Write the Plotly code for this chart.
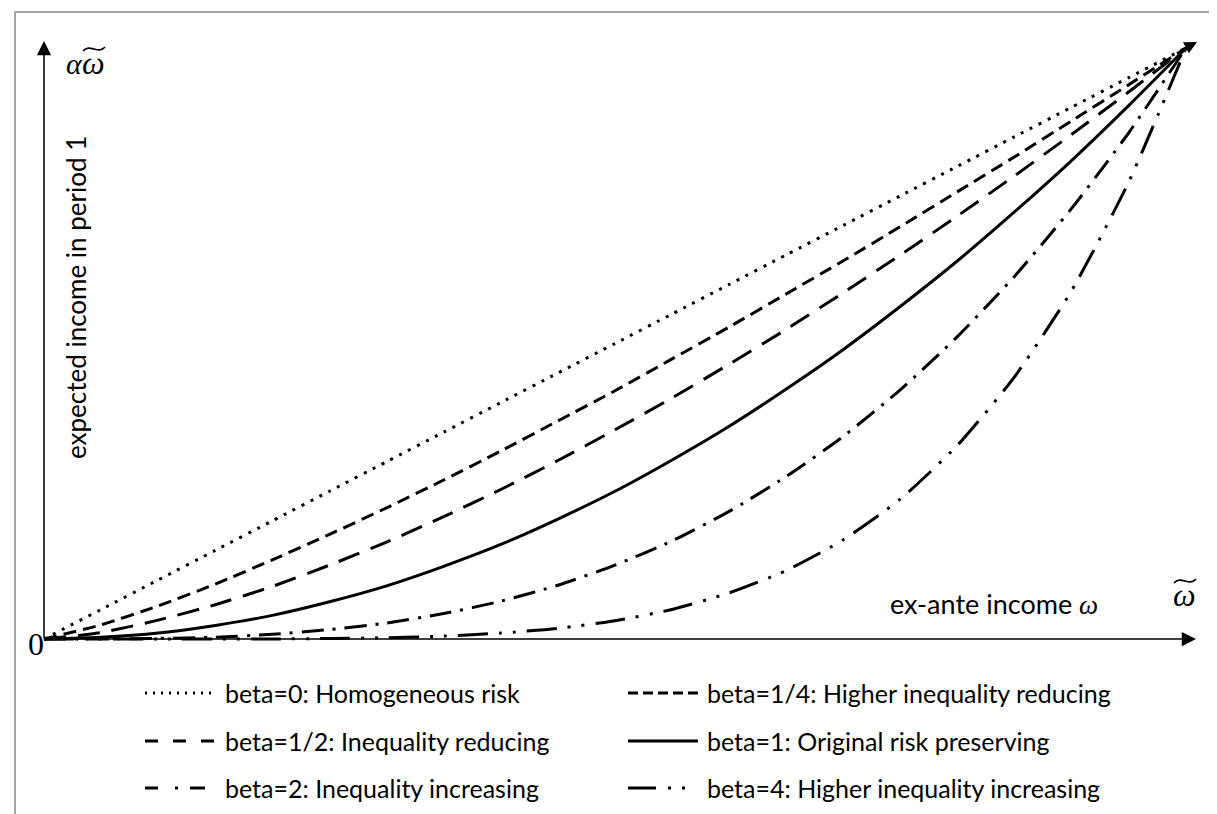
import plotly.graph_objects as go

# ---------------- data ----------------
x_vals = [0.00, 0.05, 0.10, 0.15, 0.20, 0.25, 0.30, 0.35, 0.40, 0.45, 0.50,
          0.55, 0.60, 0.65, 0.70, 0.75, 0.80, 0.85, 0.90, 0.95, 1.00]

y_beta0 = [0.000, 0.050, 0.100, 0.150, 0.200, 0.250, 0.300, 0.350, 0.400, 0.450, 0.500,
           0.550, 0.600, 0.650, 0.700, 0.750, 0.800, 0.850, 0.900, 0.950, 1.000]
y_beta14 = [0.000, 0.024, 0.056, 0.093, 0.134, 0.177, 0.222, 0.269, 0.318, 0.369, 0.420,
            0.474, 0.528, 0.584, 0.640, 0.698, 0.757, 0.816, 0.877, 0.938, 1.000]
y_beta12 = [0.000, 0.011, 0.032, 0.058, 0.089, 0.125, 0.164, 0.207, 0.253, 0.302, 0.354,
            0.408, 0.465, 0.524, 0.586, 0.650, 0.716, 0.784, 0.854, 0.926, 1.000]
y_beta1 = [0.000, 0.003, 0.010, 0.023, 0.040, 0.063, 0.090, 0.123, 0.160, 0.203, 0.250,
           0.303, 0.360, 0.423, 0.490, 0.563, 0.640, 0.723, 0.810, 0.903, 1.000]
y_beta2 = [0.000, 0.000, 0.001, 0.003, 0.008, 0.016, 0.027, 0.043, 0.064, 0.091, 0.125,
           0.166, 0.216, 0.275, 0.343, 0.422, 0.512, 0.614, 0.729, 0.857, 1.000]
y_beta4 = [0.000, 0.000, 0.000, 0.000, 0.000, 0.001, 0.002, 0.005, 0.010, 0.018, 0.031,
           0.050, 0.078, 0.116, 0.168, 0.237, 0.328, 0.444, 0.590, 0.774, 1.000]

series_names = ["beta=0: Homogeneous risk",
                "beta=1/4: Higher inequality reducing",
                "beta=1/2: Inequality reducing",
                "beta=1: Original risk preserving",
                "beta=2: Inequality increasing",
                "beta=4: Higher inequality increasing"]
series_values = [y_beta0, y_beta14, y_beta12, y_beta1, y_beta2, y_beta4]
series_dash = ["3px,7px", "13px,7px", "22px,12px", "solid",
               "22px,9px,3px,9px", "30px,11px,3px,11px,3px,11px"]
legend_dash = ["2px,6px", "10px,5px", "13px,15px", "solid",
               "13px,17px,3px,12px,15px", "28px,12px,3px,11px,3px"]

# ---------------- layout geometry (pixels) ----------------
W, H = 1217, 814
ML, MR, MT, MB = 13, 16, 28, 171
X0PX, X1PX = 36, 1178     # pixel of x=0 and x=1
Y0PX, Y1PX = 631, 40      # pixel of y=0 and y=1
xs = X1PX - X0PX
ys = Y0PX - Y1PX
PW, PH = W - ML - MR, H - MT - MB


def dx(px):
    return (px - X0PX) / xs


def dy(py):
    return (Y0PX - py) / ys


def paper_x(px):
    return (px - ML) / PW


def paper_y(py):
    return (H - MB - py) / PH


xrange_ = [dx(ML), dx(W - MR)]
yrange_ = [dy(H - MB), dy(MT)]

FONT = "Lato"
MATH = "Liberation Serif"

fig = go.Figure()
for name, vals, dash in zip(series_names, series_values, series_dash):
    fig.add_trace(go.Scatter(
        x=x_vals, y=vals, mode="lines", name=name,
        line=dict(color="black", width=3, dash=dash, shape="spline", smoothing=0.6),
        showlegend=False, hoverinfo="skip"))

annotations = []
shapes = []

# axes with arrow heads
annotations.append(dict(x=dx(1188), y=0, ax=0, ay=0, xref="x", yref="y", axref="x", ayref="y",
                        text="", showarrow=True, arrowhead=2, arrowsize=1.9, arrowwidth=1.5,
                        arrowcolor="black"))
annotations.append(dict(x=0, y=dy(33), ax=0, ay=0, xref="x", yref="y", axref="x", ayref="y",
                        text="", showarrow=True, arrowhead=2, arrowsize=1.9, arrowwidth=1.5,
                        arrowcolor="black"))
# diagonal arrow head at the end of the curves
annotations.append(dict(x=dx(1189), y=dy(34), ax=dx(1172), ay=dy(43), xref="x", yref="y",
                        axref="x", ayref="y", text="", showarrow=True, arrowhead=2,
                        arrowsize=1.0, arrowwidth=2.5, arrowcolor="black"))


def math_text(txt, cx, cy, size=30):
    annotations.append(dict(x=paper_x(cx), y=paper_y(cy), xref="paper", yref="paper",
                            text="<i>%s</i>" % txt, showarrow=False,
                            xanchor="center", yanchor="middle",
                            font=dict(family=MATH, size=size, color="black")))


def tilde(cx, cy, half=11, amp=6):
    pts = [(cx - half, cy + 2), (cx - half / 2.5, cy - amp), (cx + half / 2.5, cy + amp),
           (cx + half, cy - 2)]
    p = [(paper_x(a), paper_y(b)) for a, b in pts]
    path = "M %f,%f C %f,%f %f,%f %f,%f" % (p[0][0], p[0][1], p[1][0], p[1][1],
                                            p[2][0], p[2][1], p[3][0], p[3][1])
    shapes.append(dict(type="path", xref="paper", yref="paper", path=path,
                       line=dict(color="black", width=1.6)))


# math labels: alpha omega-tilde at the y axis top, omega-tilde at the x axis end
math_text("α", 66, 55)
math_text("ω", 85, 55, size=32)
tilde(86, 41)
math_text("ω", 1176, 587, size=32)
tilde(1177, 573)
annotations.append(dict(x=paper_x(28), y=paper_y(636), xref="paper", yref="paper", text="0",
                        showarrow=False, xanchor="center", yanchor="middle",
                        font=dict(family=MATH, size=32, color="black")))
annotations.append(dict(x=paper_x(1092), y=paper_y(595), xref="paper", yref="paper",
                        text="ex-ante income <span style='font-family:Liberation Serif'><i>ω</i></span>",
                        showarrow=False, xanchor="right", yanchor="middle",
                        font=dict(family=FONT, size=27, color="black")))
annotations.append(dict(x=paper_x(68), y=paper_y(290), xref="paper", yref="paper",
                        text="expected income in period 1", textangle=-90,
                        showarrow=False, xanchor="center", yanchor="middle",
                        font=dict(family=FONT, size=26, color="black")))

# manual legend
col_x = [(137, 207, 215), (620, 690, 697)]
row_y = [685, 733, 780]
for i, (name, ldash) in enumerate(zip(series_names, legend_dash)):
    row, col = divmod(i, 2)
    x_a, x_b, x_t = col_x[col]
    yy = row_y[row]
    sx_b = x_b - (10 if i == 4 else 0)
    shapes.append(dict(type="line", xref="paper", yref="paper",
                       x0=paper_x(x_a), x1=paper_x(sx_b), y0=paper_y(yy), y1=paper_y(yy),
                       line=dict(color="black", width=3, dash=ldash)))
    annotations.append(dict(x=paper_x(x_t), y=paper_y(yy), xref="paper", yref="paper",
                            text=name, showarrow=False, xanchor="left", yanchor="middle",
                            font=dict(family=FONT, size=25, color="black")))

# outer frame
shapes.append(dict(type="rect", xref="paper", yref="paper",
                   x0=paper_x(7), x1=paper_x(1212), y0=paper_y(830), y1=paper_y(4),
                   line=dict(color="#a6a6a6", width=2), layer="below"))

fig.update_layout(
    width=W, height=H,
    margin=dict(l=ML, r=MR, t=MT, b=MB, pad=0),
    paper_bgcolor="white", plot_bgcolor="white",
    xaxis=dict(range=xrange_, visible=False, fixedrange=True),
    yaxis=dict(range=yrange_, visible=False, fixedrange=True),
    annotations=annotations, shapes=shapes, showlegend=False,
)
fig.write_html("out.html")
